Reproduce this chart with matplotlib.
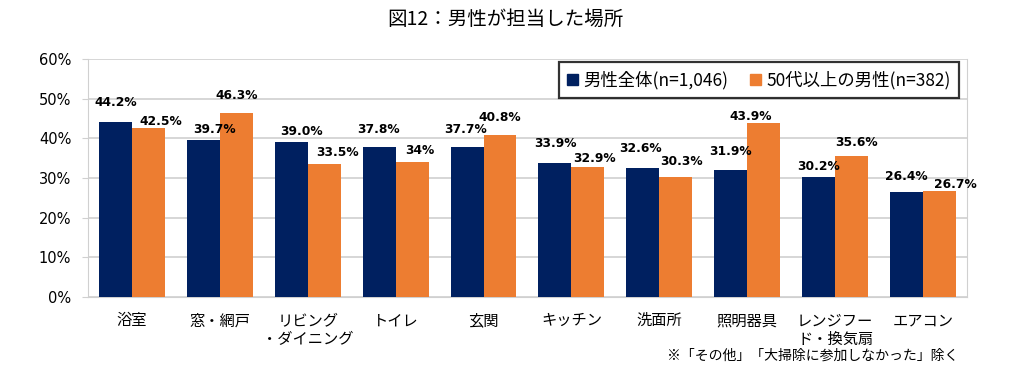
import numpy as np
import matplotlib.pyplot as plt
from matplotlib.patches import Patch

plt.rcParams['font.family'] = ['Noto Sans CJK JP', 'DejaVu Sans']

categories = ['浴室', '窓・網戸', 'リビング\n・ダイニング', 'トイレ', '玄関', 'キッチン',
              '洗面所', '照明器具', 'レンジフー\nド・換気扇', 'エアコン']
all_men = [44.2, 39.7, 39.0, 37.8, 37.7, 33.9, 32.6, 31.9, 30.2, 26.4]
men_50plus = [42.5, 46.3, 33.5, 34.0, 40.8, 32.9, 30.3, 43.9, 35.6, 26.7]
all_men_labels = ['44.2%', '39.7%', '39.0%', '37.8%', '37.7%', '33.9%', '32.6%', '31.9%', '30.2%', '26.4%']
men_50plus_labels = ['42.5%', '46.3%', '33.5%', '34%', '40.8%', '32.9%', '30.3%', '43.9%', '35.6%', '26.7%']
series_names = ['男性全体(n=1,046)', '50代以上の男性(n=382)']

# label offsets in pixels (dx, dy above bar top), as laid out in the original
navy_off = [(0, 19), (11, 10), (10, 11), (-1, 18), (-1, 18), (0, 19), (-2, 19), (0, 19), (0, 11), (0, 16)]
orange_off = [(12, 7), (0, 18), (13, 12), (8, 12), (0, 18), (7, 8), (6, 15), (-13, 6), (5, 13), (16, 7)]

navy = '#002060'
orange = '#ED7D31'
grid_c = '#d0d0d0'

fig = plt.figure(figsize=(10.1, 3.82), dpi=100)
ax = fig.add_axes([0.0871, 0.2225, 0.8703, 0.623])

x = np.arange(len(categories))
w = 0.375
ax.bar(x - w / 2, all_men, w, color=navy, zorder=3)
ax.bar(x + w / 2, men_50plus, w, color=orange, zorder=3)

for i in range(len(categories)):
    dx, dy = navy_off[i]
    ax.annotate(all_men_labels[i], (x[i] - w / 2, all_men[i]), xytext=(dx * 0.72, dy * 0.72),
                textcoords='offset points', ha='center', va='center',
                fontsize=8.8, fontweight='bold', family='DejaVu Sans', zorder=4)
    dx, dy = orange_off[i]
    ax.annotate(men_50plus_labels[i], (x[i] + w / 2, men_50plus[i]), xytext=(dx * 0.72, dy * 0.72),
                textcoords='offset points', ha='center', va='center',
                fontsize=8.8, fontweight='bold', family='DejaVu Sans', zorder=4)

ax.set_xlim(-0.5, len(categories) - 0.5)
ax.set_ylim(0, 60)
ax.set_yticks(np.arange(0, 61, 10))
ax.set_yticklabels([f'{v}%' for v in range(0, 61, 10)], fontsize=10.5, family='DejaVu Sans')
ax.set_xticks(x)
ax.set_xticklabels(categories, fontsize=11, linespacing=1.1, va='top')
ax.tick_params(axis='x', length=0, pad=11)
ax.tick_params(axis='y', length=4, color=grid_c, pad=8)
ax.yaxis.grid(True, color=grid_c, linewidth=1.2, zorder=0)
for s in ['left', 'right', 'bottom']:
    ax.spines[s].set_color(grid_c)
ax.spines['top'].set_visible(False)

handles = [Patch(color=navy), Patch(color=orange)]
leg = ax.legend(handles, series_names, loc='upper right', bbox_to_anchor=(0.991, 0.988),
                ncol=2, fontsize=12.5, frameon=True, fancybox=False,
                handlelength=0.6, handleheight=0.6, handletextpad=0.3, columnspacing=1.3,
                borderpad=0.5, borderaxespad=0)
leg.get_frame().set_edgecolor('black')
leg.get_frame().set_linewidth(1.6)
leg.set_zorder(5)

fig.text(0.5, 0.95, '図12：男性が担当した場所', ha='center', va='center', fontsize=14)
fig.text(0.949, 0.068, '※「その他」「大掃除に参加しなかった」除く', ha='right', va='center', fontsize=10)

fig.savefig('out.png', dpi=100)
